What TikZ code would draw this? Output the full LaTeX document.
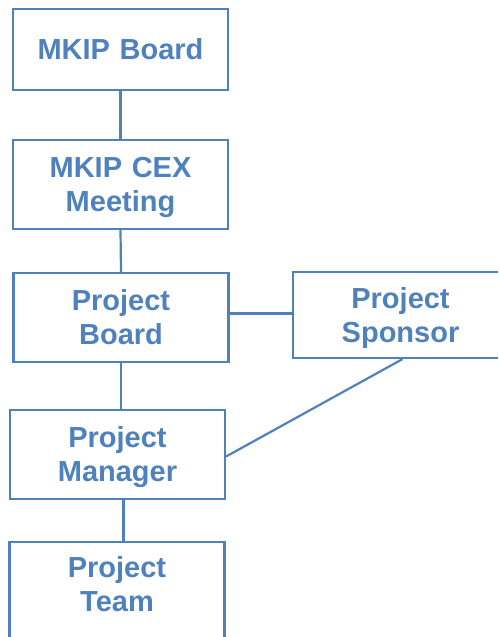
\documentclass[tikz,border=0pt]{standalone}
\usepackage{fontspec}
\setmainfont{Liberation Sans}
\usetikzlibrary{positioning,calc}
\definecolor{OrgBlue}{HTML}{4F81BD}
\newcommand\topstr{\rule{0pt}{30pt}}
\newcommand\botstr{\rule[-10pt]{0pt}{10pt}}

\begin{document}
\begin{tikzpicture}[
    x=1pt,y=1pt,
    orgbox/.style={rectangle,draw=OrgBlue,line width=2.2pt,fill=white,
      text=OrgBlue,minimum width=215pt,minimum height=89pt,inner sep=0pt,
      text width=210pt,align=center,font=\fontsize{29}{34}\selectfont\bfseries},
    link/.style={draw=OrgBlue,line width=2.2pt},
  ]
  \clip (0,0) rectangle (498,-637);
  % boxes
  \node[orgbox,minimum height=81pt] (mkb) at (120.5,-49.5) {\topstr MKIP Board\botstr};
  \node[orgbox] (cex) at (120.5,-184.5) {\topstr MKIP CEX\\Meeting\botstr};
  \node[orgbox] (pb) at (121,-317.5) {\topstr Project\\Board\botstr};
  \node[orgbox,minimum height=86pt] (ps) at (400.5,-315) {\topstr Project\\Sponsor\botstr};
  \node[orgbox] (pm) at (117.5,-454.5) {\topstr Project\\Manager\botstr};
  \node[orgbox,minimum height=118pt] (pt) at (117,-601) {\topstr Project\\Team\\\botstr};
  % connectors
  \draw[link] (mkb.south) -- (cex.north);
  \draw[link] (cex.south) -- (pb.north);
  \draw[link] (pb.south) -- (pb.south |- pm.north);
  \draw[link] ([xshift=6pt]pm.south) -- ([xshift=6pt]pm.south |- pt.north);
  \draw[link] ([yshift=4pt]pb.east) -- ([yshift=4pt]pb.east -| ps.west);
  \draw[link] ([yshift=-2pt]pm.east) -- ([xshift=2pt]ps.south);
\end{tikzpicture}
\end{document}
